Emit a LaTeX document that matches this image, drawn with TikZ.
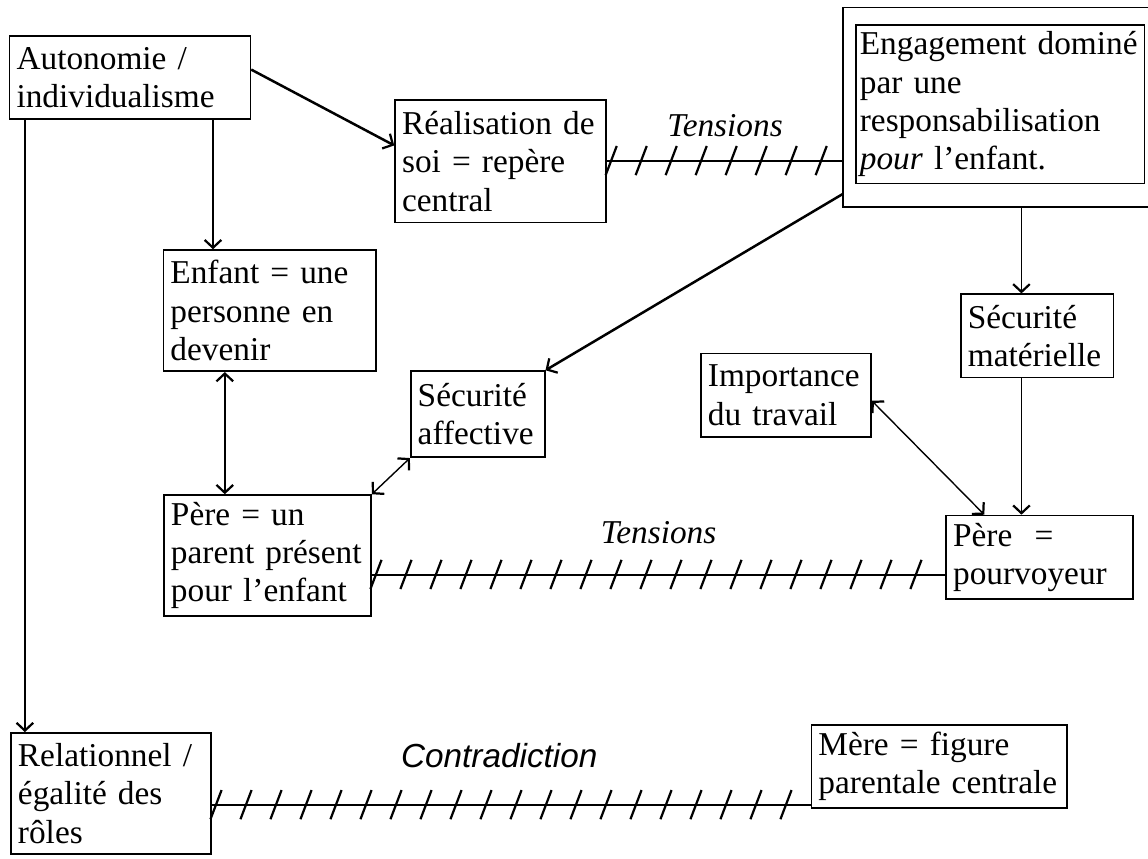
\documentclass[tikz,border=0pt]{standalone}
\usepackage{fontspec}
\setmainfont{Liberation Serif}
\newfontfamily\sanscontra{Liberation Sans}
\usetikzlibrary{arrows.meta, decorations.markings}
\tikzstyle{boite} = [rectangle, draw=black, line width=0.6pt, align=left, inner xsep=2.5pt, inner ysep=0pt, font=\fontsize{12}{13.8}\selectfont]
\tikzstyle{etiquette} = [inner sep=0pt, font=\fontsize{12}{13.8}\selectfont\itshape]
\tikzstyle{fleche} = [line width=0.5pt,->,>={Straight Barb[length=2.8pt,width=6pt,line width=0.8pt]}]
\tikzstyle{doublefleche} = [line width=0.5pt,<->,>={Straight Barb[length=2.8pt,width=6pt,line width=0.8pt]}]
\tikzstyle{hachures} = [line width=0.8pt, postaction={decorate}, decoration={markings, mark=between positions 1.5pt and 1 step 10.8pt with {\draw [line width=0.8pt] (-2pt,-5pt) -- (2pt,5.5pt);}}]

\begin{document}
\begin{tikzpicture}
	\coordinate (coinHG) at (-46.8pt,27.9pt);
	\coordinate (coinBD) at (366.5pt,-281.3pt);
	\useasboundingbox (coinHG) rectangle (coinBD);

	\node (autonomie) [boite, text width=81.7pt, minimum height=30pt] {Autonomie /\\individualisme};
	\node (realisation) [boite, text width=71pt, minimum height=44pt, right of=autonomie, xshift=3.69cm, yshift=-1.06cm] {Réalisation de\\soi = repère\\central};
	\node (engagement) [boite, inner xsep=1.5pt, text width=101pt, minimum height=57pt, right of=realisation, xshift=5.32cm, yshift=0.72cm] {Engagement dominé\\par une\\responsabilisation\\\textit{pour} l’enfant.};
	\coordinate (cadrehg) at ([xshift=-0.15cm,yshift=0.215cm]engagement.north west);
	\coordinate (cadrebg) at ([xshift=-0.15cm,yshift=-0.29cm]engagement.south west);

	\node (enfant) [boite, text width=71.6pt, minimum height=43.6pt, below of=autonomie, xshift=1.77cm, yshift=-1.95cm] {Enfant = une\\personne en\\devenir};
	\node (affective) [boite, text width=43.2pt, minimum height=31pt, right of=enfant, xshift=1.63cm, yshift=-1.31cm] {Sécurité\\affective};
	\node (pereparent) [boite, text width=69.5pt, minimum height=43.6pt, below of=enfant, xshift=-0.03cm, yshift=-2.1cm] {Père = un\\parent présent\\pour l’enfant};
	\node (relationnel) [boite, text width=67pt, minimum height=43.6pt, below of=pereparent, xshift=-1.98cm, yshift=-2.01cm] {Relationnel /\\égalité des\\rôles};
	\node (mere) [boite, text width=87pt, minimum height=30pt, right of=relationnel, xshift=9.48cm, yshift=0.34cm] {Mère = figure\\parentale centrale};

	\node (materielle) [boite, text width=50pt, minimum height=30pt, below of=engagement, xshift=0.47cm, yshift=-1.93cm] {Sécurité\\matérielle};
	\node (travail) [boite, text width=56.2pt, minimum height=30pt, left of=materielle, xshift=-2.18cm, yshift=-0.75cm] {Importance\\du travail};
	\node (pourvoyeur) [boite, text width=62.3pt, minimum height=30pt, below of=materielle, xshift=0.03cm, yshift=-1.8cm] {Père \ =\\pourvoyeur};

	% cadre autour de l'engagement
	\draw [line width=0.6pt] (cadrehg -| coinBD) -- (cadrehg) -- (cadrebg) -- (cadrebg -| coinBD);

	\coordinate (a1) at ([xshift=1.05cm]autonomie.south);
	\coordinate (a2) at ([xshift=-1.33cm]autonomie.south);
	\coordinate (e1) at ([xshift=-0.57cm]enfant.south);
	\coordinate (m1) at ([xshift=-0.2cm]materielle.north);
	\coordinate (m2) at ([xshift=-0.2cm]materielle.south);
	\coordinate (pp) at ([yshift=-0.247cm]pereparent.east);
	\coordinate (rr) at ([yshift=-0.15cm]relationnel.east);

	\draw [fleche, line width=0.9pt] ([yshift=0.1cm]autonomie.east) -- ([yshift=0.2cm]realisation.west);
	\draw [fleche] (a1) -- (a1 |- enfant.north);
	\draw [fleche] (a2) -- (a2 |- relationnel.north);
	\draw [doublefleche] (e1) -- (e1 |- pereparent.north);
	\draw [doublefleche] (pereparent.north east) -- (affective.south west);
	\draw [fleche, line width=0.9pt] ([yshift=0.17cm]cadrebg) -- (affective.north east);
	\draw [fleche] (m1 |- cadrebg) -- (m1);
	\draw [fleche] (m2) -- (m2 |- pourvoyeur.north);
	\draw [doublefleche] ([yshift=-0.07cm]travail.east) -- ([xshift=-0.7cm]pourvoyeur.north);

	\draw [hachures] (realisation.east) -- node (tensionsA) [etiquette, above=8.3pt] {Tensions} (realisation.east -| cadrebg);
	\draw [hachures] (pp) -- node (tensionsB) [etiquette, above=10.8pt] {Tensions} (pp -| pourvoyeur.west);
	\draw [hachures] (rr) -- node (contradiction) [etiquette, above=13pt, pos=0.48, font=\fontsize{12}{13.8}\sanscontra\itshape] {Contradiction} (rr -| mere.west);
\end{tikzpicture}
\end{document}
